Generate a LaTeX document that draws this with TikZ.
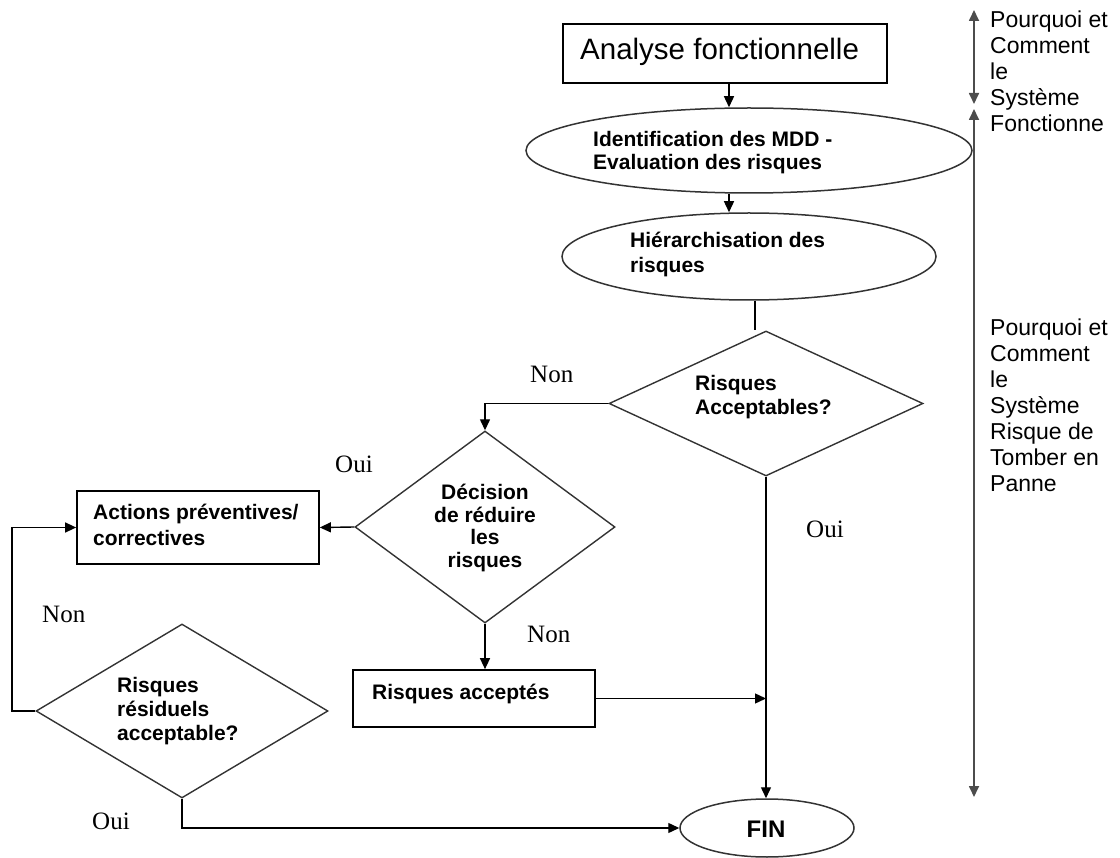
\documentclass[tikz,border=0pt]{standalone}
\usepackage{fontspec}
\setmainfont{Liberation Serif}
\setsansfont{Liberation Sans}
\usetikzlibrary{shapes.geometric,arrows.meta}
% stacked lines whose baseline is the first line
\newcommand\mlines[2][l]{\begin{tabular}[t]{@{}#1@{}}#2\end{tabular}}
\begin{document}
\begin{tikzpicture}[x=1pt,y=-1pt,
  box/.style={draw=black,line width=1.7pt,rectangle,inner sep=0pt},
  oval/.style={draw=black!80,line width=1.5pt,ellipse,inner sep=0pt},
  rhomb/.style={draw=black!80,line width=1.4pt,diamond,inner sep=0pt},
  tip/.style={},
  arr/.style={line width=1.4pt,-{Triangle[length=11pt,width=10pt]}},
  link/.style={line width=1.4pt},
  axis/.style={draw=black!70,line width=1.7pt,{Triangle[length=11pt,width=10pt]}-{Triangle[length=11pt,width=10pt]}},
  txt/.style={font=\sffamily\bfseries\fontsize{21}{24}\selectfont,inner sep=0pt,anchor=base west},
  yn/.style={font=\fontsize{25}{30}\selectfont,inner sep=0pt,anchor=base west},
  side/.style={font=\sffamily\fontsize{23}{26}\selectfont,inner sep=0pt,anchor=base west},
]
\useasboundingbox (0,0) rectangle (1120,858);

% shapes
\node[box,minimum width=324pt,minimum height=59pt] (e0) at (725,53.5) {};
\node[oval,minimum width=446pt,minimum height=85pt] (e1) at (749,150.5) {};
\node[oval,minimum width=374pt,minimum height=87pt] (e2) at (749,256.5) {};
\node[rhomb,minimum width=314pt,minimum height=145pt] (d1) at (766,403.5) {};
\node[rhomb,minimum width=260pt,minimum height=192pt] (d2) at (485,527) {};
\node[box,minimum width=242pt,minimum height=73pt] (act) at (198,527.5) {};
\node[box,minimum width=242pt,minimum height=57pt] (ra) at (474,698.5) {};
\node[rhomb,minimum width=292pt,minimum height=174pt] (d3) at (182,711) {};
\node[oval,minimum width=174pt,minimum height=58pt] (fin) at (767,828) {};

% texts inside the shapes
\node[font=\sffamily\fontsize{29.5}{34}\selectfont,inner sep=0pt,anchor=base west] (t0) at (580,60) {Analyse fonctionnelle};
\node[txt,font=\sffamily\bfseries\fontsize{21}{23}\selectfont] (t1) at (593,147) {\mlines{Identification des MDD -\\Evaluation des risques}};
\node[txt,font=\sffamily\bfseries\fontsize{21}{25}\selectfont] (t2) at (630,248) {\mlines{Hiérarchisation des\\risques}};
\node[txt] (t3) at (695,391) {\mlines{Risques\\Acceptables?}};
\node[txt,anchor=base,font=\sffamily\bfseries\fontsize{21}{22.5}\selectfont] (t4) at (485,500) {\mlines[c]{Décision\\de réduire\\les\\risques}};
\node[txt,font=\sffamily\bfseries\fontsize{21}{25}\selectfont] (t5) at (93,520) {\mlines{Actions préventives/\\correctives}};
\node[txt] (t6) at (372,699) {Risques acceptés};
\node[txt] (t7) at (117,692) {\mlines{Risques\\résiduels\\acceptable?}};
\node[txt,anchor=base,font=\sffamily\bfseries\fontsize{24}{28}\selectfont] (t8) at (766,837) {FIN};

% branch labels
\node[yn] (n1) at (530,383) {Non};
\node[yn] (o1) at (335,473) {Oui};
\node[yn] (o2) at (806,538) {Oui};
\node[yn] (n2) at (42,622) {Non};
\node[yn] (n3) at (527,642) {Non};
\node[yn] (o3) at (92,829) {Oui};

% connectors
\draw[arr] ([xshift=4pt]e0.south) -- ([xshift=4pt]e0.south |- e1.north);
\draw[arr] ([xshift=-20pt]e1.south) -- ([xshift=-20pt]e1.south |- e2.north);
\draw[link] ([xshift=6pt]e2.south) -- ([xshift=6pt]e2.south |- d1.north);
\draw[arr] (d1.west) -- (d1.west -| d2.north) -- (d2.north);
\draw[arr] (d2.west) -- (act.east);
\draw[arr] (d2.south) -- (d2.south |- ra.north);
\draw[arr] (d1.south) -- (d1.south |- fin.north);
\draw[arr] (ra.east) -- (ra.east -| d1.south);
\coordinate (lp) at (12,711);
\draw[arr] (d3.west) -- (lp) |- (act.west);
\draw[arr] (d3.south) |- (fin.west);

% side scale
\coordinate (a1) at (974,10);
\coordinate (a2) at (974,104);
\coordinate (a3) at (974,109);
\coordinate (a4) at (974,797);
\draw[axis] (a1) -- (a2);
\draw[axis] (a3) -- (a4);
\node[side] (s1) at (990,28) {\mlines{Pourquoi et\\Comment\\le\\Système\\Fonctionne}};
\node[side] (s2) at (990,336) {\mlines{Pourquoi et\\Comment\\le\\Système\\Risque de\\Tomber en\\Panne}};
\end{tikzpicture}
\end{document}
